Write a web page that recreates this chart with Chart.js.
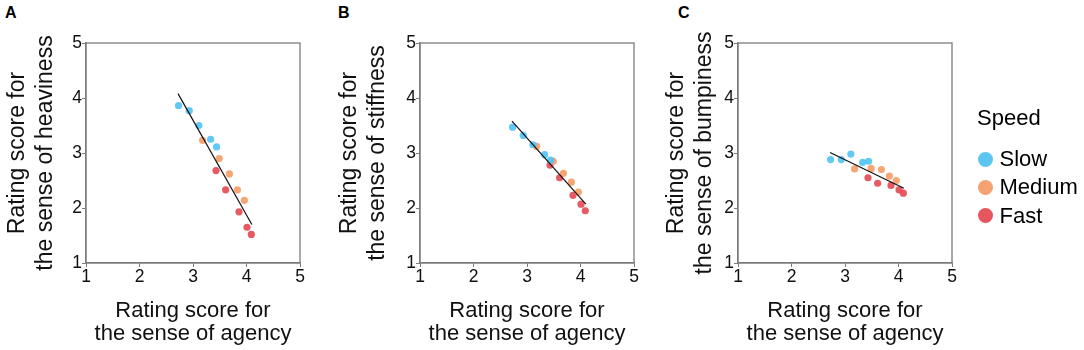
<!DOCTYPE html>
<html>
<head>
<meta charset="utf-8">
<script src="https://cdn.jsdelivr.net/npm/chart.js@4"></script>
<style>
    body { margin: 0; background: #fff; font-family: "Liberation Sans", Arial, sans-serif; }
    #wrap { position: relative; width: 1084px; height: 350px; overflow: hidden; }
    canvas { position: absolute; top: 0; }
    .tag { position: absolute; top: 5px; font-size: 16px; line-height: 16px; font-weight: bold; color: #000; }
    .legend { position: absolute; left: 977px; top: 104px; color: #000; font-size: 22px; }
    .legend .head { height: 28px; line-height: 28px; margin-bottom: 13px; }
    .legend .row { height: 28.3px; line-height: 28.3px; display: flex; align-items: center; }
    .legend .dot { width: 15px; height: 15px; border-radius: 50%; margin-right: 7px; margin-left: 0.5px; }
</style>
</head>
<body>
<div id="wrap">
    <div class="tag" style="left:5px">A</div>
    <div class="tag" style="left:338px">B</div>
    <div class="tag" style="left:678px">C</div>
    <canvas id="chartA" width="330" height="350" style="left:0px"></canvas>
    <canvas id="chartB" width="330" height="350" style="left:334px"></canvas>
    <canvas id="chartC" width="330" height="350" style="left:652px"></canvas>
    <div class="legend">
        <div class="head">Speed</div>
        <div class="row"><div class="dot" style="background:#5cc6f2"></div>Slow</div>
        <div class="row"><div class="dot" style="background:#f5a272"></div>Medium</div>
        <div class="row"><div class="dot" style="background:#e5565f"></div>Fast</div>
    </div>
</div>
<script>
// Sense of agency ratings (x axis, shared by all panels)
const agencySlow = [2.73, 2.93, 3.11, 3.33, 3.44];
const agencyMedium = [3.18, 3.49, 3.68, 3.83, 3.96];
const agencyFast = [3.43, 3.61, 3.86, 4.01, 4.09];
const fitX = [2.72, 4.10];

// Panel A - heaviness
const heavinessSlow = [3.86, 3.77, 3.50, 3.25, 3.11];
const heavinessMedium = [3.23, 2.90, 2.62, 2.33, 2.14];
const heavinessFast = [2.68, 2.33, 1.93, 1.65, 1.52];
const heavinessFit = [4.08, 1.70];

// Panel B - stiffness
const stiffnessSlow = [3.47, 3.32, 3.15, 2.97, 2.87];
const stiffnessMedium = [3.12, 2.85, 2.63, 2.47, 2.29];
const stiffnessFast = [2.78, 2.55, 2.23, 2.07, 1.95];
const stiffnessFit = [3.58, 2.07];

// Panel C - bumpiness
const bumpinessSlow = [2.88, 2.88, 2.98, 2.83, 2.85];
const bumpinessMedium = [2.71, 2.72, 2.70, 2.58, 2.50];
const bumpinessFast = [2.55, 2.45, 2.41, 2.33, 2.27];
const bumpinessFit = [3.01, 2.36];

const tickValues = [1, 2, 3, 4, 5];
const xTitle = ['Rating score for', 'the sense of agency'];

const axisColor = '#7c7c7c';
const fontFamily = '"Liberation Sans", Arial, sans-serif';

const pairs = (xs, ys) => xs.map((x, i) => ({ x: x, y: ys[i] }));

// draws the top and right edges of the plot box
const framePlugin = {
    id: 'frame',
    afterDraw(chart) {
        const { ctx, chartArea } = chart;
        ctx.save();
        ctx.strokeStyle = axisColor;
        ctx.lineWidth = 1.3;
        ctx.strokeRect(chartArea.left, chartArea.top, chartArea.right - chartArea.left, chartArea.bottom - chartArea.top);
        ctx.restore();
    }
};

function axis(title, titleFont, lineHeight, pad, isX) {
    return {
        type: 'linear',
        min: 1,
        max: 5,
        afterBuildTicks: s => { s.ticks = tickValues.map(v => ({ value: v })); },
        afterFit: s => { if (isX) s.height = 87; else s.width = 86; },
        ticks: {
            color: '#111',
            padding: isX ? 0 : 0,
            font: { family: fontFamily, size: 17.5 }
        },
        grid: {
            display: true,
            drawOnChartArea: false,
            drawTicks: true,
            tickLength: 4,
            color: axisColor
        },
        border: { display: true, color: axisColor, width: 1.3 },
        title: {
            display: true,
            text: title,
            color: '#111',
            font: { family: fontFamily, size: titleFont, lineHeight: lineHeight },
            padding: isX ? { top: 0, bottom: pad } : { top: pad, bottom: 0 }
        }
    };
}

function makePanel(id, yTitle, slow, medium, fast, fit, yPad) {
    return new Chart(document.getElementById(id), {
        type: 'scatter',
        data: {
            datasets: [
                {
                    label: 'Fit',
                    type: 'line',
                    data: pairs(fitX, fit),
                    borderColor: '#111',
                    borderWidth: 1.2,
                    pointRadius: 0,
                    fill: false,
                    order: 0
                },
                {
                    label: 'Slow',
                    data: pairs(agencySlow, slow),
                    backgroundColor: 'rgba(84, 196, 242, 0.92)',
                    pointRadius: 3.6,
                    pointBorderWidth: 0,
                    order: 1
                },
                {
                    label: 'Medium',
                    data: pairs(agencyMedium, medium),
                    backgroundColor: 'rgba(245, 158, 104, 0.92)',
                    pointRadius: 3.6,
                    pointBorderWidth: 0,
                    order: 1
                },
                {
                    label: 'Fast',
                    data: pairs(agencyFast, fast),
                    backgroundColor: 'rgba(228, 76, 86, 0.92)',
                    pointRadius: 3.6,
                    pointBorderWidth: 0,
                    order: 1
                }
            ]
        },
        options: {
            responsive: false,
            animation: false,
            layout: { padding: { top: 43, right: 30, left: 0, bottom: 0 } },
            plugins: { legend: { display: false }, tooltip: { enabled: false } },
            scales: {
                x: axis(xTitle, 22, 1.05, 4.5, true),
                y: axis(yTitle, 23, 1.22, yPad, false)
            }
        },
        plugins: [framePlugin]
    });
}

makePanel('chartA', ['Rating score for', 'the sense of heaviness'], heavinessSlow, heavinessMedium, heavinessFast, heavinessFit, 4);
makePanel('chartB', ['Rating score for', 'the sense of stiffness'], stiffnessSlow, stiffnessMedium, stiffnessFast, stiffnessFit, 1.2);
makePanel('chartC', ['Rating score for', 'the sense of bumpiness'], bumpinessSlow, bumpinessMedium, bumpinessFast, bumpinessFit, 10.2);
</script>
</body>
</html>
